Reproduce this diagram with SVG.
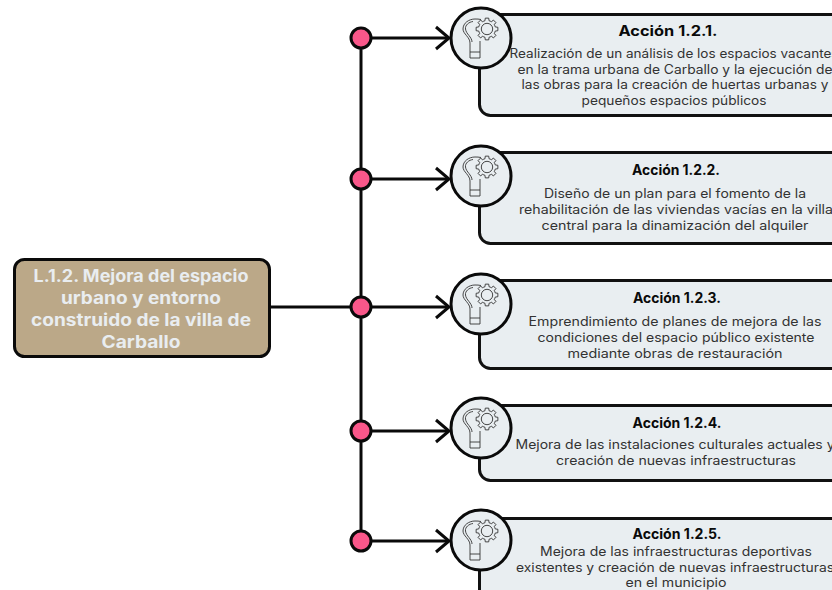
<svg xmlns="http://www.w3.org/2000/svg" width="832" height="590" viewBox="0 0 832 590">
<style>
text{font-family:"Inter","Noto Sans","Liberation Sans",sans-serif;text-anchor:middle}
.c{fill:#e9eef1;stroke:#111;stroke-width:3}
.t{font-size:14px;font-weight:700;fill:#0a0a0a}
.b{font-size:12.6px;fill:#333}
.m{font-size:17px;font-weight:700;fill:#e9edf0}
.l{fill:none;stroke:#0a0a0a;stroke-width:3}
.d{fill:#f9578a;stroke:#0a0a0a;stroke-width:3}
.i{fill:none;stroke:#333;stroke-width:.9}
</style>
<defs>
<path id="tooth" class="i" d="M-3.250-7.850L-2.060-8.250L-1.720-10.860H1.720L2.060-8.250L3.250-7.850"/>
<g id="icon">
<circle r="30" fill="#e9eef1" stroke="#0a0a0a" stroke-width="3"/>
<path class="i" d="M-11 20V5C-11-1-18-4-18-9C-18-15-12-19-6-19C-4-19-2-19 0-18.500M-9 4C-9-1-15-4-15.500-9C-16-13-12-16-8-16.500M-11 20H-1V3M-11 14H-1"/>
<g transform="translate(6 -9)">
<circle r="8.500" fill="#e9eef1"/>
<circle class="i" r="5.700"/>
<use href="#tooth"/><use href="#tooth" transform="rotate(45)"/><use href="#tooth" transform="rotate(90)"/><use href="#tooth" transform="rotate(135)"/><use href="#tooth" transform="rotate(180)"/><use href="#tooth" transform="rotate(225)"/><use href="#tooth" transform="rotate(270)"/><use href="#tooth" transform="rotate(315)"/>
</g>
</g>
<path id="arrow" class="l" d="M-13-11L0 0L-13 11"/>
</defs>
<g id="connectors">
<path class="l" d="M361 38V541M270 307H361M361 38H449M361 179H449M361 307H449M361 431H449M361 541H449"/>
<use href="#arrow" x="449" y="38"/><use href="#arrow" x="449" y="179"/><use href="#arrow" x="449" y="307"/><use href="#arrow" x="449" y="431"/><use href="#arrow" x="449" y="541"/>
<circle class="d" cx="361" cy="38" r="10"/><circle class="d" cx="361" cy="179" r="10"/><circle class="d" cx="361" cy="307" r="10"/><circle class="d" cx="361" cy="431" r="10"/><circle class="d" cx="361" cy="541" r="10"/>
</g>
<g id="main">
<rect x="14.500" y="259.500" width="255" height="97" rx="10" fill="#bba888" stroke="#0a0a0a" stroke-width="3"/>
<text class="m" x="141" y="282" textLength="215" lengthAdjust="spacingAndGlyphs">L.1.2. Mejora del espacio</text>
<text class="m" x="141" y="304" textLength="160" lengthAdjust="spacingAndGlyphs">urbano y entorno</text>
<text class="m" x="141" y="326" textLength="220" lengthAdjust="spacingAndGlyphs">construido de la villa de</text>
<text class="m" x="141" y="348" textLength="79" lengthAdjust="spacingAndGlyphs">Carballo</text>
</g>
<g id="accion-1">
<rect class="c" x="479.500" y="14.500" width="370" height="101" rx="11"/>
<use href="#icon" x="481" y="38"/>
<text class="t" x="668" y="36" textLength="99" lengthAdjust="spacingAndGlyphs">Acción 1.2.1.</text>
<text class="b" x="674" y="58" textLength="329" lengthAdjust="spacingAndGlyphs">Realización de un análisis de los espacios vacantes</text>
<text class="b" x="675" y="74" textLength="315" lengthAdjust="spacingAndGlyphs">en la trama urbana de Carballo y la ejecución de</text>
<text class="b" x="675" y="89" textLength="307" lengthAdjust="spacingAndGlyphs">las obras para la creación de huertas urbanas y</text>
<text class="b" x="674" y="105" textLength="185" lengthAdjust="spacingAndGlyphs">pequeños espacios públicos</text>
</g>
<g id="accion-2">
<rect class="c" x="479.500" y="152.500" width="370" height="91" rx="11"/>
<use href="#icon" x="481" y="176"/>
<text class="t" x="676" y="175" textLength="88" lengthAdjust="spacingAndGlyphs">Acción 1.2.2.</text>
<text class="b" x="675" y="198" textLength="262" lengthAdjust="spacingAndGlyphs">Diseño de un plan para el fomento de la</text>
<text class="b" x="676" y="214" textLength="314" lengthAdjust="spacingAndGlyphs">rehabilitación de las viviendas vacías en la villa</text>
<text class="b" x="675" y="230" textLength="267" lengthAdjust="spacingAndGlyphs">central para la dinamización del alquiler</text>
</g>
<g id="accion-3">
<rect class="c" x="479.500" y="280.500" width="370" height="88" rx="11"/>
<use href="#icon" x="481" y="304"/>
<text class="t" x="677" y="303" textLength="88" lengthAdjust="spacingAndGlyphs">Acción 1.2.3.</text>
<text class="b" x="675" y="326" textLength="293" lengthAdjust="spacingAndGlyphs">Emprendimiento de planes de mejora de las</text>
<text class="b" x="676" y="342" textLength="277" lengthAdjust="spacingAndGlyphs">condiciones del espacio público existente</text>
<text class="b" x="675" y="358" textLength="215" lengthAdjust="spacingAndGlyphs">mediante obras de restauración</text>
</g>
<g id="accion-4">
<rect class="c" x="479.500" y="405.500" width="370" height="75" rx="11"/>
<use href="#icon" x="481" y="428"/>
<text class="t" x="677" y="428" textLength="89" lengthAdjust="spacingAndGlyphs">Acción 1.2.4.</text>
<text class="b" x="675" y="449" textLength="319" lengthAdjust="spacingAndGlyphs">Mejora de las instalaciones culturales actuales y</text>
<text class="b" x="676" y="465" textLength="240" lengthAdjust="spacingAndGlyphs">creación de nuevas infraestructuras</text>
</g>
<g id="accion-5">
<rect class="c" x="479.500" y="518.500" width="370" height="90" rx="11"/>
<use href="#icon" x="481" y="540"/>
<text class="t" x="677" y="539" textLength="89" lengthAdjust="spacingAndGlyphs">Acción 1.2.5.</text>
<text class="b" x="676" y="556" textLength="272" lengthAdjust="spacingAndGlyphs">Mejora de las infraestructuras deportivas</text>
<text class="b" x="675" y="572" textLength="318" lengthAdjust="spacingAndGlyphs">existentes y creación de nuevas infraestructuras</text>
<text class="b" x="676" y="587" textLength="101" lengthAdjust="spacingAndGlyphs">en el municipio</text>
</g>
</svg>
